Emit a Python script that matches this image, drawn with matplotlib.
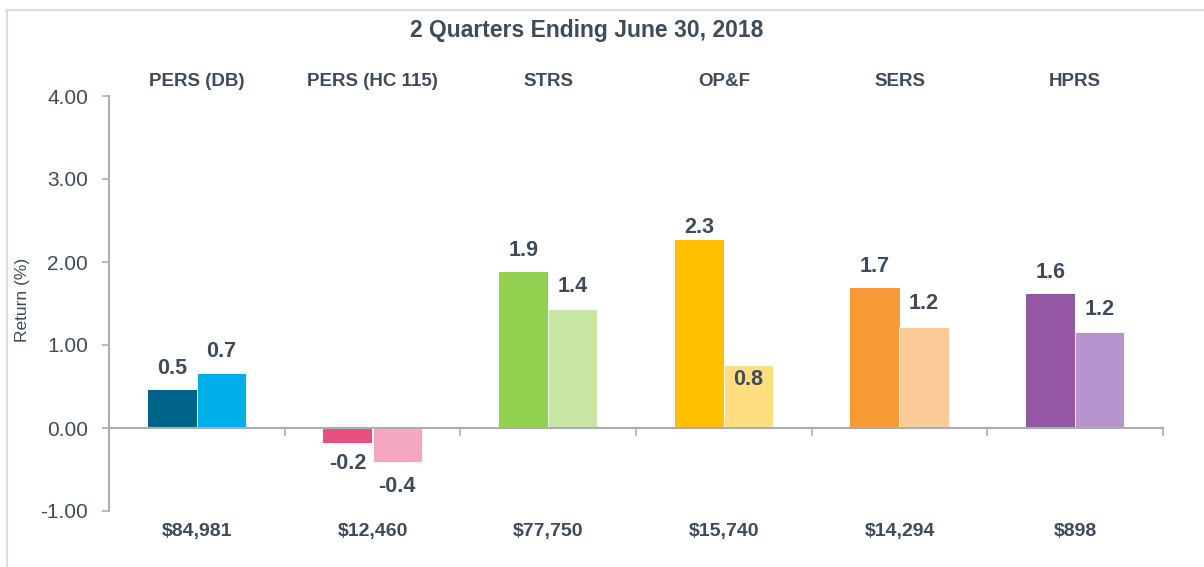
import numpy as np
import matplotlib.pyplot as plt
from matplotlib.patches import Rectangle

plt.rcParams['font.family'] = ['Liberation Sans', 'DejaVu Sans']

title = '2 Quarters Ending June 30, 2018'
systems = ['PERS (DB)', 'PERS (HC 115)', 'STRS', 'OP&F', 'SERS', 'HPRS']
assets = ['$84,981', '$12,460', '$77,750', '$15,740', '$14,294', '$898']
ret_a = [0.46, -0.18, 1.88, 2.27, 1.69, 1.61]
ret_b = [0.66, -0.41, 1.43, 0.76, 1.22, 1.16]
yticks = [-1.0, 0.0, 1.0, 2.0, 3.0, 4.0]

dark = ['#00648a', '#e9507f', '#92d050', '#ffc000', '#f79a35', '#9456a5']
light = ['#00aeea', '#f4a8c0', '#c7e6a2', '#ffde82', '#fbca97', '#b595cd']
txt = '#3d4b5a'

fig = plt.figure(figsize=(12.04, 5.67), dpi=100)
fig.patches.append(Rectangle((7 / 1204, -0.1), 1.2, (557 / 567) + 0.1,
                             transform=fig.transFigure, fill=False,
                             edgecolor='#dcdcdc', linewidth=1.5))
ax = fig.add_axes([109 / 1204, 1 - 511 / 567, (1163 - 109) / 1204, (511 - 96) / 567])

x = np.arange(len(systems))
w = 0.28
ax.bar(x - w / 2, ret_a, w, color=dark, zorder=2)
ax.bar(x + w / 2, ret_b, w, color=light, edgecolor='white', linewidth=0.6, zorder=2)

# value labels
off_a = [0.26, -0.25, 0.26, 0.14, 0.26, 0.26]
off_b = [0.26, -0.29, 0.27, -0.17, 0.28, 0.27]
for i in range(len(systems)):
    ax.text(x[i] - w / 2, ret_a[i] + off_a[i], f'{ret_a[i]:.1f}', ha='center', va='center',
            fontsize=15.5, fontweight='bold', color=txt)
    ax.text(x[i] + w / 2, ret_b[i] + off_b[i], f'{ret_b[i]:.1f}', ha='center', va='center',
            fontsize=15.5, fontweight='bold', color=txt)

# category names on top, assets below
for i in range(len(systems)):
    ax.text(x[i], 4.17, systems[i], ha='center', va='center', fontsize=13.5,
            fontweight='bold', color=txt)
    ax.text(x[i], -1.25, assets[i], ha='center', va='center', fontsize=14,
            fontweight='bold', color=txt)

fig.text(587 / 1204, 1 - 30 / 567, title, ha='center', va='center', fontsize=16.5,
         fontweight='bold', color=txt)
fig.text(22 / 1204, 1 - 300 / 567, 'Return (%)', rotation=90, ha='center', va='center',
         fontsize=12.5, color=txt)

ax.set_xlim(-0.5, 5.5)
ax.set_ylim(-1, 4)
ax.set_yticks(yticks)
ax.set_yticklabels([f'{v:.2f}' for v in yticks], fontsize=15, color=txt)
ax.set_xticks(np.arange(-0.5, 6, 1))
ax.set_xticklabels([])

ax.spines['top'].set_visible(False)
ax.spines['right'].set_visible(False)
ax.spines['bottom'].set_position(('data', 0))
for s in ['left', 'bottom']:
    ax.spines[s].set_color('#a9aeb3')
    ax.spines[s].set_linewidth(1.5)
ax.tick_params(axis='y', length=5, width=1.2, color='#a9aeb3', pad=10)
ax.tick_params(axis='x', length=6, width=1.2, color='#a9aeb3')

fig.savefig('out.png', dpi=100)
